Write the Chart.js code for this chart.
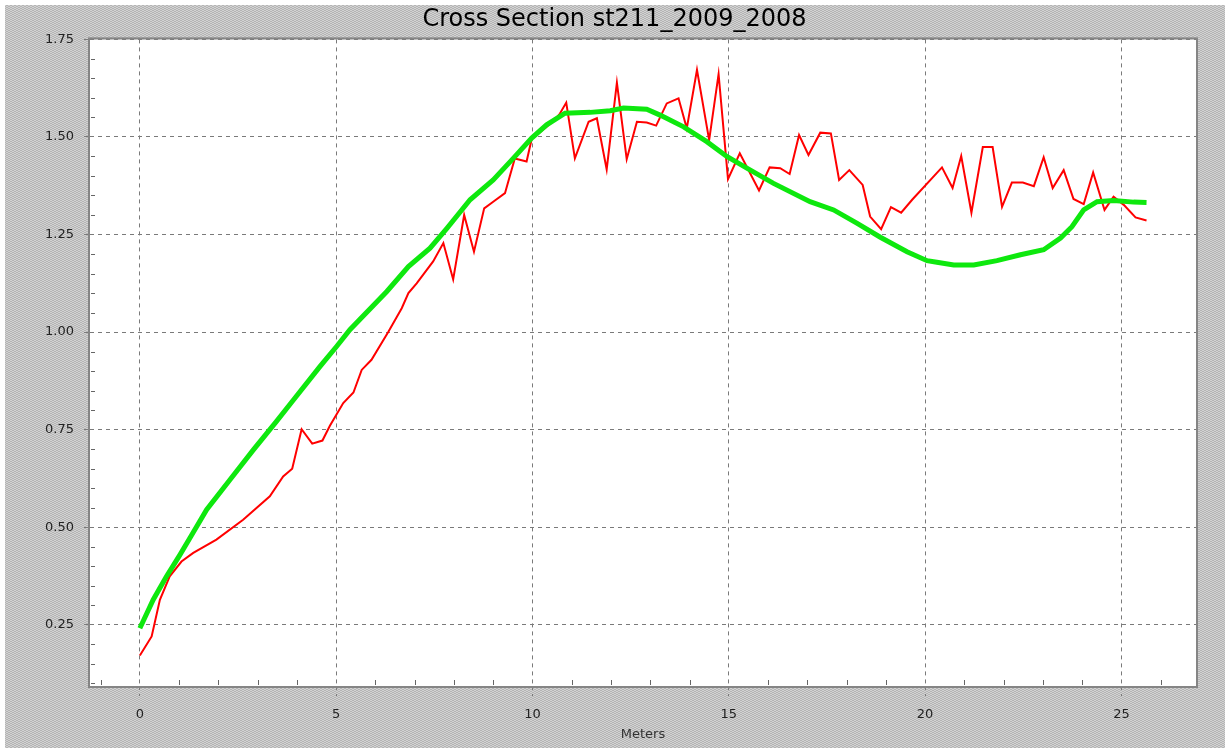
<!DOCTYPE html>
<html>
<head>
<meta charset="utf-8">
<script src="https://cdn.jsdelivr.net/npm/chart.js@4.4.1/dist/chart.umd.min.js"></script>
<style>
  body { margin: 0; background: #fff; }
  canvas { display: block; }
</style>
</head>
<body>
<canvas id="c" width="1229" height="754"></canvas>
<script>
// survey 2009 (red) vs fitted 2008 profile (green)
const redX = [0.00, 0.30, 0.51, 0.76, 1.06, 1.36, 1.95, 2.63, 3.31, 3.65, 3.88, 4.12, 4.39, 4.65, 4.84,
  5.18, 5.44, 5.65, 5.90, 6.33, 6.67, 6.84, 7.05, 7.47, 7.73, 7.98, 8.26, 8.51, 8.77, 9.00,
  9.30, 9.55, 9.85, 9.98, 10.19, 10.53, 10.70, 10.86, 11.08, 11.43, 11.64, 11.89, 12.15, 12.40, 12.66,
  12.91, 13.15, 13.42, 13.72, 13.93, 14.19, 14.50, 14.74, 14.98, 15.28, 15.77, 16.04, 16.31, 16.55, 16.79,
  17.03, 17.33, 17.60, 17.81, 18.07, 18.41, 18.60, 18.88, 19.13, 19.39, 19.67, 20.43, 20.70, 20.92, 21.18,
  21.47, 21.72, 21.96, 22.21, 22.49, 22.77, 23.02, 23.25, 23.53, 23.78, 24.04, 24.28, 24.57, 24.80, 25.06,
  25.36, 25.64]
const redY = [0.171, 0.220, 0.314, 0.374, 0.412, 0.434, 0.468, 0.519, 0.579, 0.630, 0.650, 0.751, 0.714, 0.722, 0.760,
  0.818, 0.845, 0.903, 0.929, 1.001, 1.061, 1.100, 1.125, 1.181, 1.228, 1.135, 1.300, 1.206, 1.317, 1.334,
  1.356, 1.445, 1.437, 1.495, 1.512, 1.540, 1.560, 1.588, 1.445, 1.539, 1.548, 1.417, 1.639, 1.443, 1.539,
  1.537, 1.529, 1.586, 1.599, 1.522, 1.672, 1.492, 1.661, 1.392, 1.458, 1.363, 1.422, 1.420, 1.405, 1.505,
  1.454, 1.511, 1.509, 1.390, 1.415, 1.377, 1.296, 1.264, 1.320, 1.306, 1.339, 1.422, 1.369, 1.451, 1.306,
  1.474, 1.474, 1.321, 1.383, 1.383, 1.374, 1.448, 1.369, 1.415, 1.341, 1.328, 1.409, 1.313, 1.347, 1.326,
  1.294, 1.286]

const greenX = [0.00, 0.34, 0.68, 1.02, 1.32, 1.70, 2.29, 2.89, 3.48, 3.91, 4.59, 5.01, 5.35, 6.29, 6.84,
  7.39, 7.82, 8.41, 9.00, 9.51, 9.98, 10.36, 10.83, 11.47, 11.98, 12.32, 12.91, 13.25, 13.85, 14.44,
  14.95, 15.46, 16.14, 17.07, 17.67, 18.26, 18.86, 19.54, 20.05, 20.30, 20.73, 21.24, 21.83, 22.43, 23.02,
  23.45, 23.74, 24.04, 24.38, 24.80, 25.31, 25.64]
const greenY = [0.241, 0.314, 0.374, 0.429, 0.480, 0.545, 0.621, 0.698, 0.771, 0.826, 0.912, 0.963, 1.006, 1.104, 1.168,
  1.215, 1.266, 1.339, 1.390, 1.445, 1.497, 1.531, 1.561, 1.563, 1.567, 1.574, 1.571, 1.556, 1.526, 1.488,
  1.450, 1.420, 1.381, 1.334, 1.313, 1.279, 1.243, 1.206, 1.183, 1.179, 1.172, 1.172, 1.183, 1.198, 1.211,
  1.241, 1.270, 1.313, 1.334, 1.337, 1.333, 1.332]

const xTicks = [0, 5, 10, 15, 20, 25]
const yTicks = [0.25, 0.50, 0.75, 1.00, 1.25, 1.50, 1.75]

const FONT = "'DejaVu Sans', Verdana, sans-serif"

function pts(xs, ys) {
  return xs.map((x, i) => ({ x: x, y: ys[i] }))
}

// grey dithered background like the old java chart panel
function makePattern(ctx) {
  let p = document.createElement('canvas')
  p.width = 4
  p.height = 4
  let pc = p.getContext('2d')
  for (let i = 0; i < 4; i++) {
    for (let j = 0; j < 4; j++) {
      pc.fillStyle = ((i + 2 * j) % 4 < 2) ? '#b4b4b4' : '#d2d2d2'
      pc.fillRect(i, j, 1, 1)
    }
  }
  return ctx.createPattern(p, 'repeat')
}

const panelPlugin = {
  id: 'panel',
  beforeDraw(chart) {
    const ctx = chart.ctx
    const a = chart.chartArea
    ctx.save()
    ctx.fillStyle = '#fff'
    ctx.fillRect(0, 0, chart.width, chart.height)
    ctx.fillStyle = makePattern(ctx)
    ctx.fillRect(5, 5, chart.width - 9, chart.height - 11)
    ctx.fillStyle = '#fff'
    ctx.fillRect(a.left, a.top, a.right - a.left, a.bottom - a.top)
    ctx.restore()
  },
  afterDraw(chart) {
    const ctx = chart.ctx
    const a = chart.chartArea
    const xs = chart.scales.x
    const ys = chart.scales.y
    ctx.save()
    // minor ticks, inside the plot
    ctx.strokeStyle = '#666'
    ctx.lineWidth = 1
    ctx.beginPath()
    for (let v = -1; v <= 26; v++) {
      if (v % 5 === 0) continue
      let px = Math.round(xs.getPixelForValue(v)) + 0.5
      ctx.moveTo(px, a.bottom - 1)
      ctx.lineTo(px, a.bottom - 6)
    }
    for (let k = 2; k <= 35; k++) {
      if (k % 5 === 0) continue
      let py = Math.round(ys.getPixelForValue(k * 0.05)) + 0.5
      ctx.moveTo(a.left + 1, py)
      ctx.lineTo(a.left + 5, py)
    }
    ctx.stroke()
    // frame
    ctx.strokeStyle = '#858585'
    ctx.lineWidth = 2
    ctx.strokeRect(a.left - 1, a.top - 1, a.right - a.left + 2, a.bottom - a.top + 2)
    ctx.restore()
  }
}

new Chart(document.getElementById('c'), {
  type: 'line',
  data: {
    datasets: [
      {
        label: '2008',
        data: pts(greenX, greenY),
        borderColor: '#0ee80e',
        borderWidth: 5,
        pointRadius: 0,
        tension: 0
      },
      {
        label: '2009',
        data: pts(redX, redY),
        borderColor: '#ff0000',
        borderWidth: 2,
        pointRadius: 0,
        tension: 0
      }
    ]
  },
  options: {
    responsive: false,
    animation: false,
    layout: { padding: 0 },
    plugins: {
      legend: { display: false },
      tooltip: { enabled: false },
      title: {
        display: true,
        text: 'Cross Section st211_2009_2008',
        color: '#000',
        font: { family: FONT, size: 24, weight: 'normal', lineHeight: 1.1 },
        padding: { top: 7, bottom: 6 }
      }
    },
    scales: {
      x: {
        type: 'linear',
        min: -1.27,
        max: 26.9,
        afterBuildTicks: s => { s.ticks = xTicks.map(v => ({ value: v })) },
        afterFit: s => { s.height = 68 },
        grid: { color: '#7a7a7a', lineWidth: 1, tickLength: 10, tickBorderDash: [4, 4] },
        border: { display: false, dash: [4, 4] },
        ticks: {
          color: '#222',
          font: { family: FONT, size: 13 },
          padding: 11,
          maxRotation: 0,
          callback: v => String(v)
        },
        title: {
          display: true,
          text: 'Meters',
          color: '#333',
          font: { family: FONT, size: 13 },
          padding: { top: 0, bottom: 12 }
        }
      },
      y: {
        type: 'linear',
        min: 0.093,
        max: 1.75,
        afterBuildTicks: s => { s.ticks = yTicks.map(v => ({ value: v })) },
        afterFit: s => { s.width = 90 },
        grid: { color: '#7a7a7a', lineWidth: 1, tickLength: 6, tickBorderDash: [4, 4] },
        border: { display: false, dash: [4, 4] },
        ticks: {
          color: '#222',
          font: { family: FONT, size: 13 },
          padding: 10,
          callback: v => v.toFixed(2)
        }
      },
      // empty right axis, only keeps the grey margin on the right
      yr: {
        type: 'linear',
        position: 'right',
        min: 0.093,
        max: 1.75,
        afterFit: s => { s.width = 33 },
        grid: { display: false },
        border: { display: false },
        ticks: { display: false }
      }
    }
  },
  plugins: [panelPlugin]
})
</script>
</body>
</html>
